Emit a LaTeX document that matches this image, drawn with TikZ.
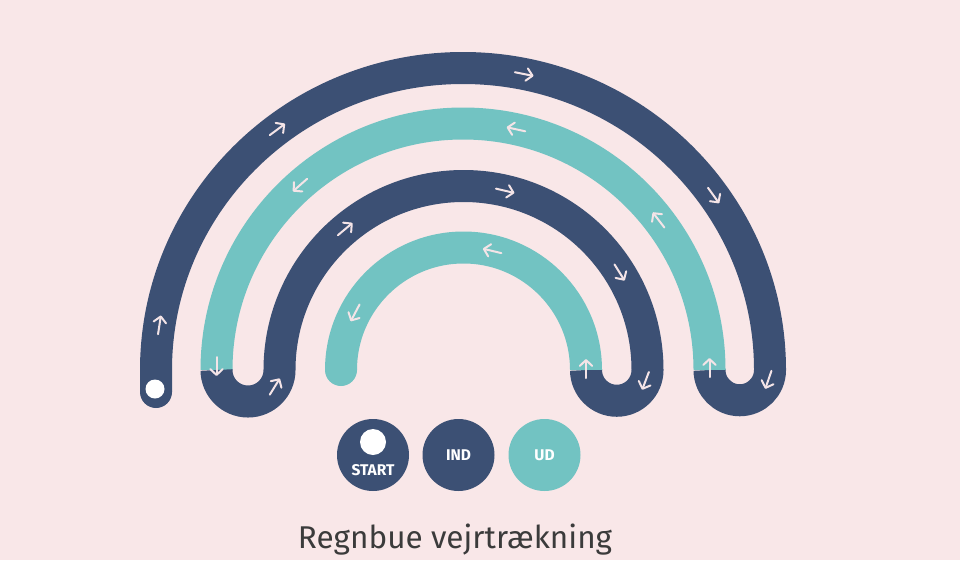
\documentclass[tikz,border=0pt]{standalone}
\usepackage{fontspec}
\setmainfont{Fira Sans}
\usetikzlibrary{arrows.meta}
\definecolor{rbBg}{HTML}{F9E7E8}
\definecolor{rbDark}{HTML}{3C5074}
\definecolor{rbTeal}{HTML}{72C3C2}
\definecolor{rbArrow}{HTML}{F4E4E7}
\definecolor{rbText}{HTML}{3B3B3B}
\newcommand{\ArcArrow}[6]{%
  \pgfmathsetmacro\ArPx{#1+#3*cos(#5)}%
  \pgfmathsetmacro\ArPy{#2+#4*sin(#5)}%
  \pgfmathsetmacro\ArTx{-(#6)*sin(#5)*#3/#4}%
  \pgfmathsetmacro\ArTy{(#6)*cos(#5)}%
  \pgfmathsetmacro\ArTn{sqrt(\ArTx*\ArTx+\ArTy*\ArTy)}%
  \draw[arrowmark] ({\ArPx-9.5*\ArTx/\ArTn},{\ArPy-9.5*\ArTy/\ArTn}) -- ({\ArPx+9.5*\ArTx/\ArTn},{\ArPy+9.5*\ArTy/\ArTn});%
}
\tikzset{
  band/.style={line width=32pt, line cap=butt},
  arrowmark/.style={draw=rbArrow, line width=2pt, line cap=round, -{Straight Barb[length=6pt,width=12.5pt,round]}},
  legend/.style={circle, minimum size=72pt, inner sep=0pt, text=white, font=\fontsize{15.5}{18}\selectfont\bfseries},
}
\begin{document}
\begin{tikzpicture}[x=1pt,y=-1pt]
\useasboundingbox (0,0) rectangle (960,560);
\fill[rbBg] (0,0) rectangle (960,560);
% bands
\draw[band, rbDark] (156,392) -- (156,370) arc[start angle=180, end angle=360, x radius=307, y radius=302] arc[start angle=0, end angle=180, radius=30.25];
\draw[band, rbTeal] (709.5,370) arc[start angle=0, end angle=-180, radius=246.5];
\draw[band, rbDark] (216.5,370) arc[start angle=180, end angle=0, radius=31.5] arc[start angle=180, end angle=360, radius=184] arc[start angle=0, end angle=180, radius=30.75];
\draw[band, rbTeal] (586,370) arc[start angle=0, end angle=-180, radius=122.5];
\fill[rbDark] (156,392) circle (16);
\fill[rbTeal] (341,370) circle (16);
\fill[white] (155,389) circle (9.5);
% arrows arch 1
\ArcArrow{463}{370}{307}{302}{188.6}{1}
\ArcArrow{463}{370}{307}{302}{232.8}{1}
\ArcArrow{463}{370}{307}{302}{281.5}{1}
\ArcArrow{463}{370}{307}{302}{324.7}{1}
\ArcArrow{739.75}{370}{30.25}{30.25}{19}{1}
% arch 2
\draw[arrowmark] (709.5,377) -- (709.5,358);
\ArcArrow{463}{370}{246.5}{246.5}{-37.5}{-1}
\ArcArrow{463}{370}{246.5}{246.5}{-77.6}{-1}
\ArcArrow{463}{370}{246.5}{246.5}{-131.4}{-1}
\draw[arrowmark] (216.5,357) -- (216.5,376);
% arch 3
\ArcArrow{248}{370}{31.5}{31.5}{31.7}{-1}
\ArcArrow{463.5}{370}{184}{184}{230}{1}
\ArcArrow{463.5}{370}{184}{184}{283.1}{1}
\ArcArrow{463.5}{370}{184}{184}{328}{1}
\ArcArrow{616.75}{370}{30.75}{30.75}{20.7}{1}
% arch 4
\draw[arrowmark] (586,378) -- (586,359);
\ArcArrow{463.5}{370}{122.5}{122.5}{-76.5}{-1}
\ArcArrow{463.5}{370}{122.5}{122.5}{-152.2}{-1}
% legend
\node[legend, fill=rbDark] (start) at (373,455) {};
\fill[white] (373,442) circle (13);
\node[text=white, font=\fontsize{15.5}{18}\selectfont\bfseries] (starttxt) at (373,470) {START};
\node[legend, fill=rbDark] (ind) at (458.5,455) {IND};
\node[legend, fill=rbTeal] (ud) at (544.5,455) {UD};
% title
\node[anchor=base, text=rbText, font=\fontsize{31.5}{36}\selectfont, inner sep=0pt] (title) at (455,548) {Regnbue vejrtrækning};
\end{tikzpicture}
\end{document}
